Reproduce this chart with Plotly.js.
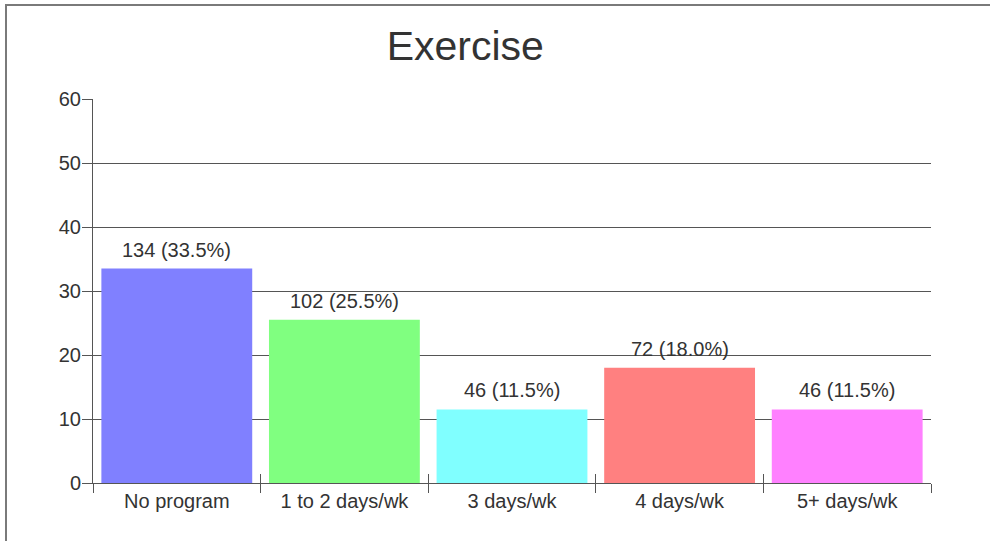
<!DOCTYPE html>
<html>
<head>
<meta charset="utf-8">
<script src="https://cdn.plot.ly/plotly-3.0.1.min.js"></script>
<style>
  html, body { margin: 0; padding: 0; background: #fff; overflow: hidden; }
  #frame { position: absolute; left: 5px; top: 4px; width: 1100px; height: 700px;
           border-left: 2px solid #7a7a7a; border-top: 2px solid #7a7a7a; }
  #chart { position: absolute; left: 0; top: 0; width: 990px; height: 541px; }
</style>
</head>
<body>
<div id="frame"></div>
<div id="chart"></div>
<script>
const categories = ["No program", "1 to 2 days/wk", "3 days/wk", "4 days/wk", "5+ days/wk"];
const counts = [134, 102, 46, 72, 46];
const percents = [33.5, 25.5, 11.5, 18.0, 11.5];
const barColors = ["#8080ff", "#80ff80", "#80ffff", "#ff8080", "#ff80ff"];
const yTicks = [0, 10, 20, 30, 40, 50, 60];

const labels = counts.map((c, i) => c + " (" + percents[i].toFixed(1) + "%)");

const font = "Liberation Sans, Arial, Helvetica, sans-serif";

const trace = {
  type: "bar",
  x: categories,
  y: percents,
  marker: { color: barColors, line: { width: 0 } },
  hoverinfo: "none"
};

const ghost = {
  type: "scatter", x: categories, y: percents, xaxis: "x2", yaxis: "y",
  mode: "none", hoverinfo: "none", showlegend: false
};

const annotations = categories.map((c, i) => ({
  x: c, y: percents[i], xref: "x", yref: "y",
  text: labels[i], showarrow: false,
  xanchor: "center", yanchor: "bottom", yshift: 6,
  font: { family: font, size: 20, color: "#333" }
}));

const layout = {
  width: 990, height: 541,
  margin: { l: 93, r: 59, t: 99, b: 58 },
  paper_bgcolor: "rgba(0,0,0,0)",
  plot_bgcolor: "rgba(0,0,0,0)",
  bargap: 0.1,
  showlegend: false,
  annotations: annotations,
  title: {
    text: "Exercise",
    font: { family: font, size: 41, color: "#333" },
    xref: "container", x: 0.47, xanchor: "center",
    yref: "container", y: 0.915, yanchor: "middle"
  },
  xaxis: {
    type: "category",
    showline: true, linecolor: "#555", linewidth: 1,
    ticks: "outside", tickson: "boundaries", ticklen: 9, tickcolor: "#555", tickwidth: 1,
    showgrid: false,
    tickfont: { family: font, size: 20, color: "#333" },
    fixedrange: true
  },
  xaxis2: {
    type: "category", overlaying: "x", matches: "x",
    showline: false, showticklabels: false, showgrid: false,
    ticks: "inside", tickson: "boundaries", ticklen: 9, tickcolor: "#555", tickwidth: 1,
    anchor: "y", side: "bottom"
  },
  yaxis: {
    range: [0, 60],
    tickvals: yTicks,
    ticktext: yTicks.map(String),
    showline: true, linecolor: "#555", linewidth: 1,
    ticks: "outside", ticklen: 10, tickcolor: "#555", tickwidth: 1,
    ticklabelstandoff: -3,
    showgrid: true, gridcolor: "#555", gridwidth: 1,
    zeroline: false,
    tickfont: { family: font, size: 20, color: "#333" },
    fixedrange: true
  }
};

Plotly.newPlot("chart", [trace, ghost], layout, { staticPlot: true, displayModeBar: false });
</script>
</body>
</html>
